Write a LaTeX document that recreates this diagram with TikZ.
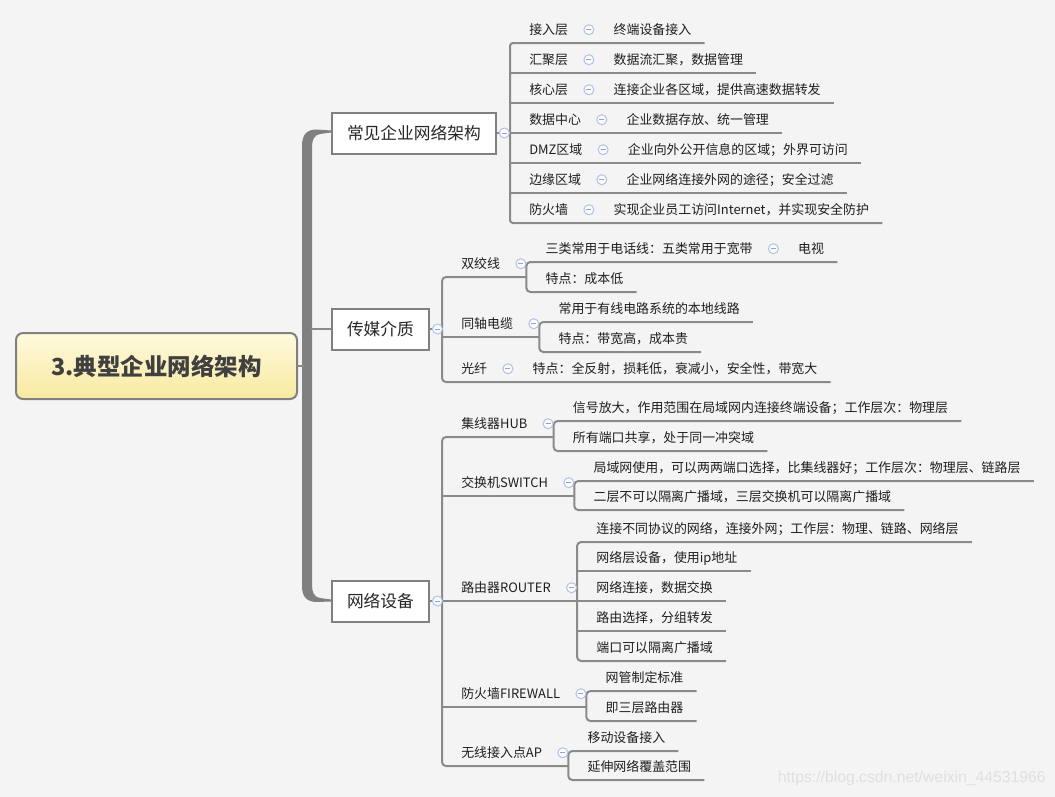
\documentclass[tikz,border=0pt]{standalone}
\usepackage{fontspec}
\setmainfont{Noto Sans CJK SC}
\newfontfamily\wmfont{Liberation Sans}
\usetikzlibrary{positioning}
\definecolor{bgcol}{RGB}{244,244,244}
\definecolor{linegray}{RGB}{138,138,138}
\definecolor{boxgray}{RGB}{128,128,128}
\definecolor{foldblue}{RGB}{178,192,234}
\definecolor{foldminus}{RGB}{150,162,200}
\definecolor{roottop}{RGB}{254,250,222}
\definecolor{rootbot}{RGB}{248,233,160}
\definecolor{roottext}{RGB}{64,64,64}
\definecolor{leaftext}{RGB}{30,30,30}
\definecolor{wmgray}{RGB}{224,224,224}
\newdimen\pxu \pxu=0.025cm

\tikzset{
  ln/.style={draw=linegray, line width=2\pxu},
  leaf/.style={anchor=south west, inner sep=0pt, text=leaftext,
    font=\fontsize{9.2pt}{11pt}\selectfont, text height=18\pxu, text depth=8\pxu,
    execute at begin node={\hspace*{19\pxu}}, execute at end node={\hspace*{13\pxu}}},
  mainbox/.style={anchor=west, draw=boxgray, fill=white, line width=2\pxu,
    minimum height=41\pxu, inner xsep=15\pxu, text=black!85,
    font=\fontsize{11.9pt}{14pt}\selectfont},
  rootbox/.style={draw=boxgray, line width=2\pxu, rounded corners=7\pxu,
    top color=roottop, bottom color=rootbot, minimum width=281\pxu,
    minimum height=66\pxu, text=roottext, font=\fontsize{16.7pt}{20pt}\selectfont\bfseries},
  fold/.style={circle, draw=foldblue, fill=white!60!bgcol, line width=0.7pt,
    minimum size=10\pxu, inner sep=0pt,
    path picture={\draw[foldminus, line width=0.7pt]
      ([xshift=-2.5\pxu]path picture bounding box.center) --
      ([xshift=2.5\pxu]path picture bounding box.center);}},
  wm/.style={anchor=east, inner sep=0pt, text=wmgray, font=\wmfont\fontsize{11.2pt}{13pt}\selectfont}
}

\begin{document}
\begin{tikzpicture}[x=0.025cm, y=-0.025cm]
    \useasboundingbox (0,0) rectangle (1055,797);
    \fill[bgcol] (0,0) rectangle (1055,797);

    % root and trunk
    \node[rootbox] (root) at (156.5,366) {3.典型企业网络架构};
    \fill[boxgray] (331,130.5) -- (317,129.5) .. controls (307,129.5) and (302,134) .. (302,146)
        -- (302,586) .. controls (302,597) and (307,602) .. (317,602) -- (331,601.5)
        -- (331,599.5) -- (320,598) .. controls (314,597) and (312,592) .. (312,585)
        -- (312,147) .. controls (312,140) and (314,135) .. (320,134) -- (331,132.5) -- cycle;
    \draw[ln] (root.east) -- ++(6,0);

    % main topics
    \node[mainbox] (b1) at (331,133) {常见企业网络架构};
    \node[mainbox] (b2) at (331,329) {传媒介质};
    \node[mainbox] (b3) at (331,601) {网络设备};
    \draw[ln] (b2.west) -- ++(-20,0);

    % 常见企业网络架构
    \foreach \i/\y/\t/\c in {1/43/接入层/终端设备接入, 2/73/汇聚层/数据流汇聚，数据管理,
        3/103/核心层/连接企业各区域，提供高速数据转发, 4/133/数据中心/企业数据存放、统一管理,
        5/163/DMZ区域/企业向外公开信息的区域；外界可访问, 6/193/边缘区域/企业网络连接外网的途径；安全过滤,
        7/223/防火墙/实现企业员工访问Internet，并实现安全防护}{
        \node[leaf] (a\i) at (510,\y) {\t};
        \node[leaf] (ac\i) at ([xshift=13\pxu]a\i.south east) {\c};
    }
    \draw[ln] (b1.east) -- (b1.east -| a4.south west);
    \draw[ln, rounded corners=3\pxu] (ac1.south east) -- (a1.south west) -- (a7.south west) -- (ac7.south east);
    \foreach \i in {2,...,6}
        \draw[ln] (a\i.south west) -- (ac\i.south east);

    % 传媒介质
    \node[leaf] (s1) at (442,277) {双绞线};
    \node[leaf] (s2) at (442,337) {同轴电缆};
    \node[leaf] (s3) at (442,382) {光纤};
    \coordinate (j1) at ([xshift=13\pxu]s1.south east);
    \coordinate (j2) at ([xshift=13\pxu]s2.south east);
    \node[leaf] (s1a) at (j1 |- 0,262) {三类常用于电话线：五类常用于宽带};
    \node[leaf] (s1x) at ([xshift=13\pxu]s1a.south east) {电视};
    \node[leaf] (s1b) at (j1 |- 0,292) {特点：成本低};
    \node[leaf] (s2a) at (j2 |- 0,322) {常用于有线电路系统的本地线路};
    \node[leaf] (s2b) at (j2 |- 0,352) {特点：带宽高，成本贵};
    \node[leaf] (s3a) at ([xshift=13\pxu]s3.south east) {特点：全反射，损耗低，衰减小，安全性，带宽大};
    \draw[ln] (b2.east) -- (b2.east -| s1.south west);
    \draw[ln, rounded corners=4\pxu] (j1) -- (s1.south west) -- (s3.south west) -- (s3a.south east);
    \draw[ln] (s2.south west) -- (j2);
    \draw[ln, rounded corners=4\pxu] (s1x.south east) -- (s1a.south west) -- (s1b.south west) -- (s1b.south east);
    \draw[ln, rounded corners=4\pxu] (s2a.south east) -- (s2a.south west) -- (s2b.south west) -- (s2b.south east);

    % 网络设备
    \foreach \i/\y/\t in {1/437/集线器HUB, 2/496/交换机SWITCH, 3/601/路由器ROUTER,
        4/707/防火墙FIREWALL, 5/766/无线接入点AP}{
        \node[leaf] (n\i) at (442,\y) {\t};
        \coordinate (k\i) at ([xshift=13\pxu]n\i.south east);
    }
    \node[leaf] (n1a) at (k1 |- 0,421) {信号放大，作用范围在局域网内连接终端设备；工作层次：物理层};
    \node[leaf] (n1b) at (k1 |- 0,451) {所有端口共享，处于同一冲突域};
    \node[leaf] (n2a) at (k2 |- 0,481) {局域网使用，可以两两端口选择，比集线器好；工作层次：物理层、链路层};
    \node[leaf] (n2b) at (k2 |- 0,510) {二层不可以隔离广播域，三层交换机可以隔离广播域};
    \node[leaf] (n3a) at (k3 |- 0,542) {连接不同协议的网络，连接外网；工作层：物理、链路、网络层};
    \node[leaf] (n3b) at (k3 |- 0,571) {网络层设备，使用ip地址};
    \node[leaf] (n3c) at (k3 |- 0,601) {网络连接，数据交换};
    \node[leaf] (n3d) at (k3 |- 0,631) {路由选择，分组转发};
    \node[leaf] (n3e) at (k3 |- 0,661) {端口可以隔离广播域};
    \node[leaf] (n4a) at (k4 |- 0,691) {网管制定标准};
    \node[leaf] (n4b) at (k4 |- 0,721) {即三层路由器};
    \node[leaf] (n5a) at (k5 |- 0,751) {移动设备接入};
    \node[leaf] (n5b) at (k5 |- 0,780) {延伸网络覆盖范围};
    \draw[ln] (b3.east) -- (b3.east -| n1.south west);
    \draw[ln, rounded corners=4\pxu] (k1) -- (n1.south west) -- (n5.south west) -- (k5);
    \foreach \i in {2,3,4}
        \draw[ln] (n\i.south west) -- (k\i);
    \foreach \p/\q in {n1a/n1b, n2a/n2b, n3a/n3e, n4a/n4b, n5a/n5b}
        \draw[ln, rounded corners=4\pxu] (\p.south east) -- (\p.south west) -- (\q.south west) -- (\q.south east);
    \foreach \c in {n3b,n3c,n3d}
        \draw[ln] (\c.south west) -- (\c.south east);

    % fold markers
    \foreach \n in {b1,b2,b3,a1,a2,a3,a4,a5,a6,a7,s1,s1a,s2,s3,n1,n2,n3,n4,n5}
        \node[fold, right=2\pxu of \n] (f\n) {};

    \node[wm] (wmark) at (1046,778) {https://blog.csdn.net/weixin\_44531966};
\end{tikzpicture}
\end{document}
